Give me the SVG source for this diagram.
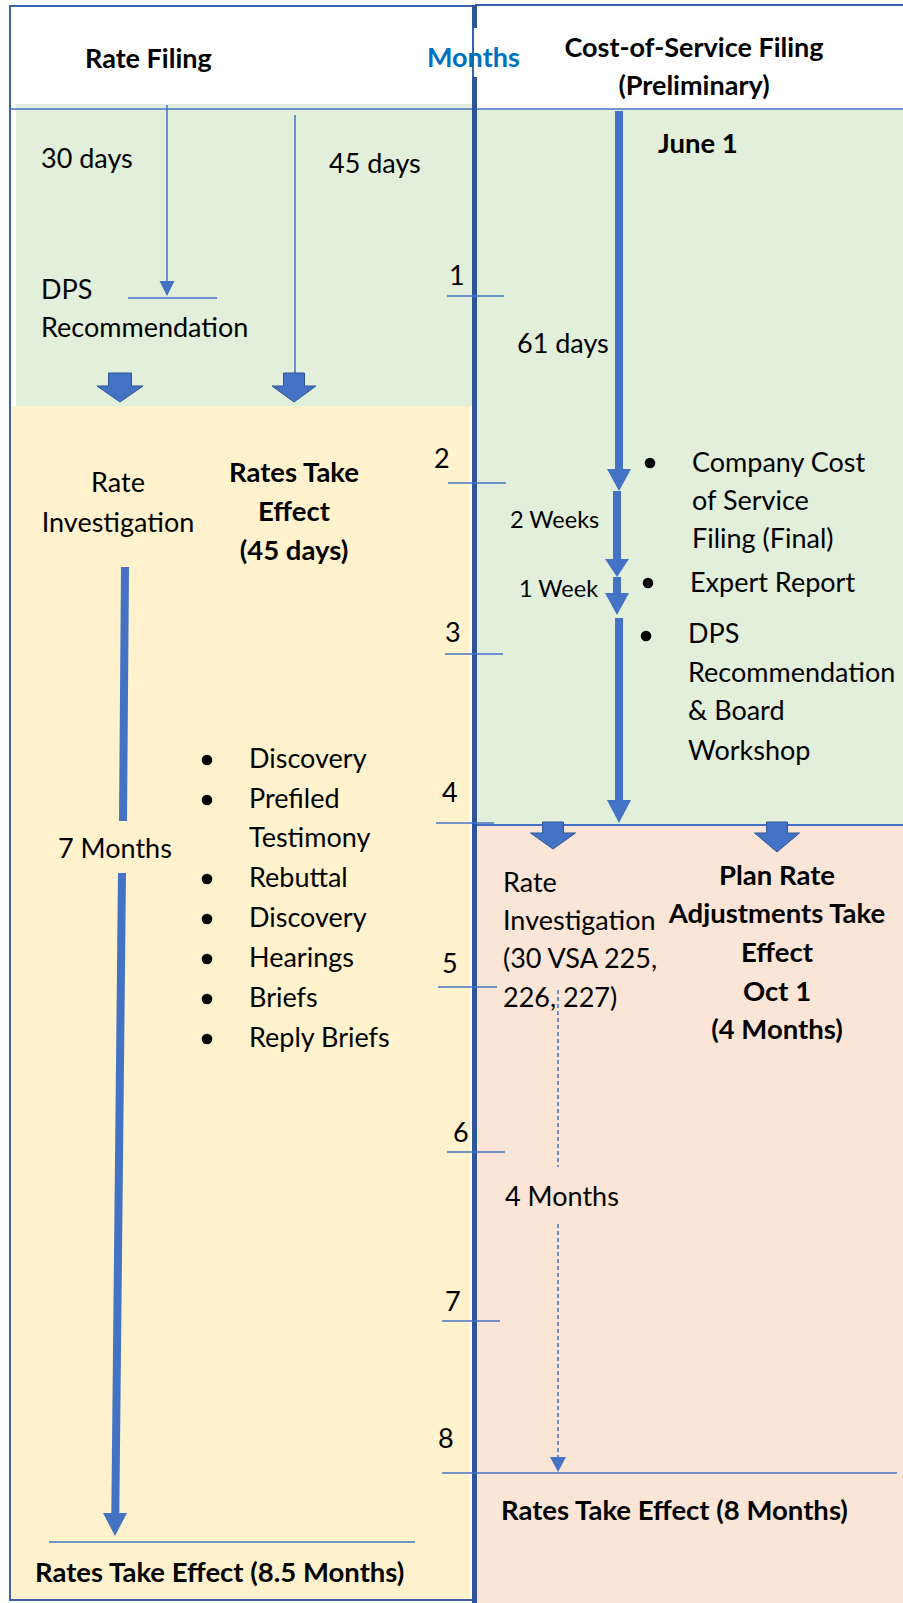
<svg xmlns="http://www.w3.org/2000/svg" width="903" height="1603" viewBox="0 0 903 1603">
<defs>
<style>
.t{font-family:Lato,"Liberation Sans",sans-serif;font-size:27px;fill:#000}
.b{font-family:Lato,"Liberation Sans",sans-serif;font-size:27.5px;font-weight:bold;fill:#000}
.h{font-size:27px}
.s{font-family:Lato,"Liberation Sans",sans-serif;font-size:23.5px;fill:#000}
.c{text-anchor:middle}
.thin{stroke:#4472C4;stroke-width:1.5;fill:none}
.thick{stroke:#4472C4;stroke-width:8;fill:none}
.ah{fill:#4472C4}
.blk{fill:#4472C4;stroke:#2F5597;stroke-width:1}
.bul{fill:#000}
</style>
</defs>
<rect x="0" y="0" width="903" height="1603" fill="#fff"/>
<g id="regions">
<rect x="16" y="104" width="456" height="302" fill="#E2EFDA"/>
<rect x="477" y="110" width="426" height="715" fill="#E2EFDA"/>
<rect x="11" y="406" width="459" height="1193" fill="#FFF2CC"/>
<rect x="477" y="825" width="426" height="778" fill="#FBE5D6"/>
</g>
<g id="frames">
<rect x="10" y="6" width="463" height="1594" fill="none" stroke="#3A62B0" stroke-width="2"/>
<line x1="475" y1="5" x2="903" y2="5" stroke="#3A62B0" stroke-width="2"/>
<line x1="10" y1="109" x2="903" y2="109" class="thin"/>
<line x1="475" y1="825" x2="903" y2="825" stroke="#4472C4" stroke-width="2"/>
<line x1="474.5" y1="5" x2="474.5" y2="28" stroke="#2F5597" stroke-width="5"/>
<line x1="474.5" y1="77" x2="474.5" y2="1603" stroke="#2F5597" stroke-width="5"/>
</g>
<g id="header">
<text class="b h" x="85" y="68">Rate Filing</text>
<text class="b h" x="427" y="67" style="fill:#0070C0">Months</text>
<text class="b h c" x="694" y="57">Cost-of-Service Filing</text>
<text class="b h c" x="694" y="95">(Preliminary)</text>
</g>
<g id="month-ticks">
<line x1="447" y1="296" x2="504" y2="296" class="thin"/>
<line x1="448" y1="483" x2="506" y2="483" class="thin"/>
<line x1="445" y1="654" x2="503" y2="654" class="thin"/>
<line x1="436" y1="823" x2="494" y2="823" class="thin"/>
<line x1="438" y1="987" x2="497" y2="987" class="thin"/>
<line x1="447" y1="1152" x2="505" y2="1152" class="thin"/>
<line x1="442" y1="1321" x2="500" y2="1321" class="thin"/>
<line x1="442" y1="1473" x2="897" y2="1473" class="thin"/>
<text class="t" x="449" y="285">1</text>
<text class="t" x="434" y="468">2</text>
<text class="t" x="445" y="642">3</text>
<text class="t" x="442" y="802">4</text>
<text class="t" x="442" y="973">5</text>
<text class="t" x="453" y="1142">6</text>
<text class="t" x="445" y="1311">7</text>
<text class="t" x="438" y="1448">8</text>
</g>
<g id="rate-filing-green">
<text class="t" x="41" y="168">30 days</text>
<text class="t" x="329" y="173">45 days</text>
<text class="t" x="41" y="299">DPS</text>
<text class="t" x="41" y="337">Recommendation</text>
<line x1="128" y1="298" x2="217" y2="298" class="thin"/>
</g>
<g id="rate-filing-yellow">
<text class="t c" x="118" y="492">Rate</text>
<text class="t c" x="118" y="532">Investigation</text>
<text class="b c" x="294" y="482">Rates Take</text>
<text class="b c" x="294" y="521">Effect</text>
<text class="b c" x="294" y="560">(45 days)</text>
<text class="t" x="58" y="858">7 Months</text>
<circle class="bul" cx="207" cy="760" r="5.3"/>
<circle class="bul" cx="207" cy="800" r="5.3"/>
<circle class="bul" cx="207" cy="879" r="5.3"/>
<circle class="bul" cx="207" cy="919" r="5.3"/>
<circle class="bul" cx="207" cy="959" r="5.3"/>
<circle class="bul" cx="207" cy="999" r="5.3"/>
<circle class="bul" cx="207" cy="1039" r="5.3"/>
<text class="t" x="249" y="768">Discovery</text>
<text class="t" x="249" y="808">Prefiled</text>
<text class="t" x="249" y="847">Testimony</text>
<text class="t" x="249" y="887">Rebuttal</text>
<text class="t" x="249" y="927">Discovery</text>
<text class="t" x="249" y="967">Hearings</text>
<text class="t" x="249" y="1007">Briefs</text>
<text class="t" x="249" y="1047">Reply Briefs</text>
<line x1="49" y1="1542" x2="415" y2="1542" class="thin"/>
<text class="b" x="35" y="1582">Rates Take Effect (8.5 Months)</text>
</g>
<g id="cos-green">
<text class="b" x="658" y="153">June 1</text>
<text class="t" x="517" y="353">61 days</text>
<text class="s" x="510" y="528">2 Weeks</text>
<text class="s" x="519" y="597">1 Week</text>
<circle class="bul" cx="650" cy="463" r="5.3"/>
<circle class="bul" cx="648" cy="583" r="5.3"/>
<circle class="bul" cx="646" cy="636" r="5.3"/>
<text class="t" x="692" y="472">Company Cost</text>
<text class="t" x="692" y="510">of Service</text>
<text class="t" x="692" y="548">Filing (Final)</text>
<text class="t" x="690" y="592">Expert Report</text>
<text class="t" x="688" y="643">DPS</text>
<text class="t" x="688" y="682">Recommendation</text>
<text class="t" x="688" y="720">&amp; Board</text>
<text class="t" x="688" y="760">Workshop</text>
</g>
<g id="cos-pink">
<text class="t" x="503" y="892">Rate</text>
<text class="t" x="503" y="930">Investigation</text>
<text class="t" x="503" y="968">(30 VSA 225,</text>
<text class="t" x="503" y="1007">226, 227)</text>
<text class="b c" x="777" y="885">Plan Rate</text>
<text class="b c" x="777" y="923">Adjustments Take</text>
<text class="b c" x="777" y="962">Effect</text>
<text class="b c" x="777" y="1001">Oct 1</text>
<text class="b c" x="777" y="1039">(4 Months)</text>
<text class="t" x="505" y="1206">4 Months</text>
<text class="b" x="501" y="1520">Rates Take Effect (8 Months)</text>
</g>
<g id="connectors">
<line x1="167" y1="105" x2="167" y2="283" class="thin"/>
<polygon class="ah" points="159.5,281 174.5,281 167,296"/>
<line x1="295" y1="115" x2="295" y2="395" class="thin"/>
<polygon class="blk" points="108.5,373 131.5,373 131.5,386 143,386 120,402 97,386 108.5,386"/>
<polygon class="blk" points="283.5,373 304.5,373 304.5,386 316,386 294,402 272,386 283.5,386"/>
<line x1="619" y1="111" x2="619" y2="470" class="thick"/>
<polygon class="ah" points="607,469 631,469 619,491"/>
<line x1="617" y1="491" x2="617" y2="560" class="thick"/>
<polygon class="ah" points="605,559 629,559 617,577"/>
<line x1="617" y1="577" x2="617" y2="594" class="thick"/>
<polygon class="ah" points="605,593 629,593 617,615"/>
<line x1="619" y1="618" x2="619" y2="801" class="thick"/>
<polygon class="ah" points="607,800 631,800 619,823"/>
<polygon class="blk" points="542.5,822 563.5,822 563.5,833 575.5,833 553,849 530.5,833 542.5,833"/>
<polygon class="blk" points="766.5,822 787.5,822 787.5,833 799.5,833 777,852 754.5,833 766.5,833"/>
<line x1="125" y1="567" x2="123" y2="821" class="thick"/>
<line x1="122" y1="873" x2="115.3" y2="1514" class="thick"/>
<polygon class="ah" points="103,1513 127,1513 115,1536"/>
<line x1="558" y1="990" x2="558" y2="1167" stroke="#4472C4" stroke-width="1.5" stroke-dasharray="4,3"/>
<line x1="558" y1="1224" x2="558" y2="1458" stroke="#4472C4" stroke-width="1.5" stroke-dasharray="4,3"/>
<polygon class="ah" points="550,1457 566,1457 558,1472"/>
</g>
</svg>
